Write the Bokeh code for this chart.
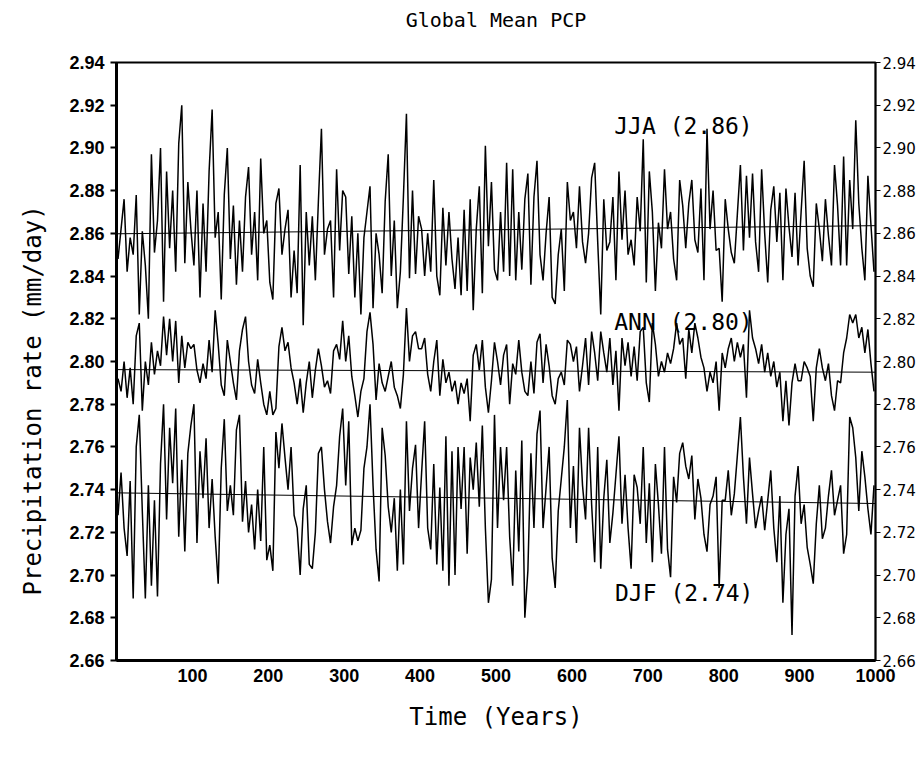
from bokeh.plotting import figure
from bokeh.models import LinearAxis, Range1d, FixedTicker, NumeralTickFormatter, Title
from bokeh.core.properties import value
from bokeh.embed import file_html
from bokeh.resources import INLINE

# ---------------- data (4-year sampling) ----------------
years = list(range(2, 1000, 4))

jja = [
    2.848, 2.862, 2.876, 2.842, 2.858, 2.850, 2.878, 2.822, 2.861, 2.845, 2.820, 2.897, 2.851, 2.866, 2.900, 2.828, 2.889, 2.853, 2.880, 2.842, 2.902, 2.920, 2.846, 2.884, 2.862,
    2.845, 2.880, 2.830, 2.874, 2.842, 2.889, 2.918, 2.858, 2.870, 2.829, 2.878, 2.900, 2.848, 2.873, 2.836, 2.866, 2.842, 2.877, 2.891, 2.850, 2.870, 2.838, 2.895, 2.860, 2.866,
    2.837, 2.829, 2.874, 2.881, 2.850, 2.862, 2.871, 2.830, 2.852, 2.832, 2.892, 2.817, 2.870, 2.845, 2.868, 2.838, 2.875, 2.909, 2.850, 2.862, 2.866, 2.830, 2.890, 2.852, 2.880,
    2.877, 2.841, 2.868, 2.830, 2.860, 2.822, 2.858, 2.870, 2.882, 2.825, 2.860, 2.850, 2.832, 2.875, 2.897, 2.840, 2.866, 2.825, 2.842, 2.877, 2.916, 2.839, 2.880, 2.841, 2.868,
    2.862, 2.840, 2.860, 2.842, 2.885, 2.840, 2.831, 2.872, 2.845, 2.870, 2.848, 2.834, 2.858, 2.831, 2.871, 2.833, 2.876, 2.824, 2.862, 2.882, 2.832, 2.901, 2.854, 2.884, 2.843,
    2.838, 2.870, 2.842, 2.893, 2.840, 2.890, 2.838, 2.870, 2.843, 2.876, 2.888, 2.836, 2.877, 2.894, 2.850, 2.838, 2.860, 2.877, 2.830, 2.827, 2.850, 2.862, 2.833, 2.884, 2.866,
    2.870, 2.853, 2.882, 2.856, 2.846, 2.860, 2.886, 2.893, 2.856, 2.822, 2.876, 2.852, 2.856, 2.877, 2.838, 2.889, 2.857, 2.880, 2.850, 2.857, 2.845, 2.877, 2.861, 2.904, 2.837,
    2.889, 2.870, 2.833, 2.865, 2.853, 2.890, 2.862, 2.870, 2.848, 2.838, 2.885, 2.873, 2.853, 2.874, 2.885, 2.857, 2.851, 2.881, 2.838, 2.909, 2.862, 2.880, 2.852, 2.853, 2.828,
    2.876, 2.862, 2.851, 2.846, 2.869, 2.892, 2.852, 2.887, 2.858, 2.888, 2.856, 2.842, 2.890, 2.860, 2.837, 2.871, 2.882, 2.856, 2.879, 2.838, 2.881, 2.863, 2.849, 2.879, 2.845,
    2.870, 2.894, 2.853, 2.840, 2.835, 2.874, 2.862, 2.847, 2.876, 2.859, 2.845, 2.892, 2.873, 2.845, 2.896, 2.845, 2.885, 2.862, 2.913, 2.874, 2.853, 2.838, 2.887, 2.864, 2.842,
]

ann = [
    2.792, 2.786, 2.800, 2.783, 2.797, 2.780, 2.812, 2.818, 2.777, 2.800, 2.789, 2.809, 2.794, 2.805, 2.798, 2.821, 2.803, 2.820, 2.800, 2.819, 2.790, 2.812, 2.797, 2.809, 2.806,
    2.808, 2.796, 2.790, 2.799, 2.792, 2.810, 2.795, 2.824, 2.808, 2.789, 2.784, 2.810, 2.800, 2.790, 2.782, 2.805, 2.815, 2.821, 2.800, 2.789, 2.785, 2.801, 2.790, 2.780, 2.775,
    2.786, 2.775, 2.778, 2.807, 2.816, 2.805, 2.809, 2.797, 2.790, 2.780, 2.792, 2.776, 2.790, 2.800, 2.783, 2.796, 2.806, 2.798, 2.788, 2.791, 2.785, 2.805, 2.808, 2.801, 2.819,
    2.800, 2.812, 2.793, 2.784, 2.774, 2.786, 2.792, 2.814, 2.823, 2.808, 2.782, 2.799, 2.790, 2.786, 2.793, 2.800, 2.788, 2.784, 2.778, 2.794, 2.825, 2.800, 2.812, 2.814, 2.806,
    2.806, 2.811, 2.794, 2.786, 2.800, 2.810, 2.784, 2.801, 2.790, 2.795, 2.786, 2.791, 2.780, 2.790, 2.785, 2.792, 2.772, 2.803, 2.808, 2.796, 2.810, 2.788, 2.776, 2.791, 2.809,
    2.800, 2.789, 2.803, 2.808, 2.780, 2.799, 2.794, 2.810, 2.795, 2.786, 2.784, 2.800, 2.785, 2.809, 2.813, 2.790, 2.808, 2.798, 2.784, 2.780, 2.792, 2.795, 2.789, 2.810, 2.808,
    2.800, 2.807, 2.786, 2.798, 2.811, 2.789, 2.814, 2.804, 2.791, 2.814, 2.804, 2.795, 2.811, 2.789, 2.805, 2.777, 2.811, 2.798, 2.809, 2.793, 2.807, 2.791, 2.814, 2.816, 2.790,
    2.781, 2.818, 2.808, 2.793, 2.800, 2.795, 2.804, 2.799, 2.806, 2.818, 2.808, 2.811, 2.792, 2.815, 2.804, 2.818, 2.811, 2.802, 2.797, 2.786, 2.795, 2.790, 2.800, 2.777, 2.804,
    2.797, 2.806, 2.811, 2.800, 2.809, 2.802, 2.808, 2.783, 2.824, 2.811, 2.806, 2.799, 2.808, 2.795, 2.804, 2.793, 2.800, 2.788, 2.795, 2.772, 2.791, 2.770, 2.790, 2.799, 2.791,
    2.791, 2.800, 2.797, 2.793, 2.772, 2.797, 2.806, 2.797, 2.791, 2.799, 2.784, 2.777, 2.791, 2.790, 2.804, 2.811, 2.822, 2.818, 2.822, 2.811, 2.816, 2.804, 2.815, 2.799, 2.786,
]

djf = [
    2.728, 2.748, 2.722, 2.709, 2.744, 2.689, 2.760, 2.775, 2.730, 2.689, 2.742, 2.695, 2.735, 2.690, 2.752, 2.780, 2.726, 2.769, 2.743, 2.778, 2.718, 2.754, 2.711, 2.757, 2.770,
    2.780, 2.715, 2.758, 2.736, 2.764, 2.722, 2.745, 2.718, 2.696, 2.750, 2.773, 2.730, 2.742, 2.728, 2.768, 2.775, 2.725, 2.744, 2.720, 2.733, 2.712, 2.740, 2.716, 2.760, 2.707,
    2.714, 2.702, 2.767, 2.750, 2.771, 2.755, 2.740, 2.760, 2.728, 2.722, 2.700, 2.731, 2.742, 2.705, 2.703, 2.720, 2.757, 2.760, 2.740, 2.725, 2.715, 2.732, 2.742, 2.765, 2.778,
    2.742, 2.772, 2.714, 2.722, 2.716, 2.721, 2.750, 2.760, 2.780, 2.742, 2.712, 2.697, 2.769, 2.756, 2.732, 2.720, 2.736, 2.702, 2.740, 2.705, 2.772, 2.730, 2.750, 2.761, 2.722,
    2.748, 2.772, 2.722, 2.712, 2.752, 2.705, 2.741, 2.702, 2.765, 2.695, 2.758, 2.700, 2.760, 2.731, 2.760, 2.710, 2.755, 2.740, 2.762, 2.732, 2.770, 2.722, 2.687, 2.698, 2.775,
    2.722, 2.760, 2.735, 2.760, 2.718, 2.695, 2.749, 2.711, 2.763, 2.680, 2.702, 2.757, 2.722, 2.766, 2.777, 2.722, 2.741, 2.760, 2.708, 2.694, 2.730, 2.745, 2.760, 2.782, 2.722,
    2.751, 2.715, 2.769, 2.742, 2.726, 2.769, 2.733, 2.706, 2.760, 2.703, 2.736, 2.754, 2.715, 2.729, 2.747, 2.765, 2.724, 2.747, 2.722, 2.703, 2.747, 2.741, 2.724, 2.760, 2.715,
    2.743, 2.706, 2.752, 2.733, 2.710, 2.760, 2.712, 2.699, 2.746, 2.734, 2.757, 2.762, 2.751, 2.745, 2.756, 2.726, 2.745, 2.736, 2.719, 2.711, 2.733, 2.737, 2.746, 2.694, 2.735,
    2.735, 2.749, 2.728, 2.738, 2.756, 2.774, 2.746, 2.724, 2.755, 2.738, 2.722, 2.730, 2.737, 2.721, 2.735, 2.749, 2.722, 2.706, 2.737, 2.687, 2.719, 2.731, 2.672, 2.737, 2.751,
    2.724, 2.733, 2.713, 2.705, 2.696, 2.724, 2.742, 2.717, 2.722, 2.737, 2.749, 2.728, 2.735, 2.742, 2.710, 2.719, 2.774, 2.769, 2.755, 2.730, 2.758, 2.746, 2.731, 2.719, 2.742,
]

# linear trend lines (end values)
trend_years = [0, 1000]
jja_trend = [2.8598, 2.8636]
ann_trend = [2.7962, 2.7950]
djf_trend = [2.7385, 2.7335]

series_labels = ["JJA (2.86)", "ANN (2.80)", "DJF (2.74)"]
x_ticks = [100, 200, 300, 400, 500, 600, 700, 800, 900, 1000]
y_ticks = [2.66, 2.68, 2.70, 2.72, 2.74, 2.76, 2.78, 2.80, 2.82, 2.84, 2.86, 2.88, 2.90, 2.92, 2.94]

# ---------------- figure ----------------
p = figure(width=918, height=745,
           x_range=Range1d(0, 1000), y_range=Range1d(2.66, 2.94),
           output_backend="svg", toolbar_location=None,
           min_border_left=109, min_border_right=42,
           min_border_top=62, min_border_bottom=85)

p.background_fill_color = "white"
p.border_fill_color = "white"
p.grid.visible = False
p.outline_line_color = "black"
p.outline_line_width = 2

# real title is the figure's own (outermost); a tiny spacer title sits next to the frame
p.title.text = "Global Mean PCP"
p.title.align = "center"
p.title.text_font = "DejaVu Sans Mono"
p.title.text_font_size = "20px"
p.title.text_font_style = "normal"
p.title.text_color = "black"
p.title.standoff = 2
p.add_layout(Title(text=" ", text_font_size="1px", standoff=27), "above")

def n(a):
    return years[:len(a)]

for s in (jja, ann, djf):
    p.line(n(s), s, line_color="black", line_width=1.5)

for t in (jja_trend, ann_trend, djf_trend):
    p.line(trend_years, t, line_color="black", line_width=1)

p.text(x=[747, 747, 748], y=[2.9105, 2.8183, 2.6918], text=series_labels,
       text_font=value("DejaVu Sans Mono"), text_font_size="23px",
       text_align="center", text_baseline="middle", text_color="black")

# x axis
xa = p.xaxis[0]
xa.ticker = FixedTicker(ticks=x_ticks)
xa.axis_line_width = 3
xa.major_tick_out = 0
xa.major_tick_in = 0
xa.minor_tick_out = 0
xa.minor_tick_in = 0
xa.major_label_standoff = 8
xa.major_label_text_font = "Liberation Sans"
xa.major_label_text_font_style = "bold"
xa.major_label_text_font_size = "18px"
xa.major_label_text_color = "black"
xa.axis_label = "Time (Years)"
xa.axis_label_text_font = "DejaVu Sans Mono"
xa.axis_label_text_font_style = "normal"
xa.axis_label_text_font_size = "24px"
xa.axis_label_text_color = "black"
xa.axis_label_standoff = 18

# left y axis
ya = p.yaxis[0]
ya.ticker = FixedTicker(ticks=y_ticks)
ya.formatter = NumeralTickFormatter(format="0.00")
ya.axis_line_width = 3
ya.major_tick_out = 6
ya.major_tick_in = 0
ya.minor_tick_out = 0
ya.minor_tick_in = 0
ya.major_tick_line_width = 2
ya.major_label_standoff = 6
ya.major_label_text_font = "Liberation Sans"
ya.major_label_text_font_style = "bold"
ya.major_label_text_font_size = "18px"
ya.major_label_text_color = "black"

# y label as a side title (lets it sit lower, like the reference)
ylab = Title(text="Precipitation rate (mm/day)", align="left", offset=65,
             vertical_align="top",
             text_font="DejaVu Sans Mono", text_font_size="24px",
             text_font_style="normal", text_color="black", standoff=36)
p.add_layout(ylab, "left")

# right y axis
ra = LinearAxis(ticker=FixedTicker(ticks=y_ticks),
                formatter=NumeralTickFormatter(format="0.00"))
ra.axis_line_width = 1.5
ra.major_tick_out = 5
ra.major_tick_in = 0
ra.minor_tick_out = 0
ra.minor_tick_in = 0
ra.major_label_standoff = 2
ra.major_label_text_font = "DejaVu Sans"
ra.major_label_text_font_size = "15px"
ra.major_label_text_color = "black"
p.add_layout(ra, "right")

open("out.html", "w").write(file_html(p, INLINE))
